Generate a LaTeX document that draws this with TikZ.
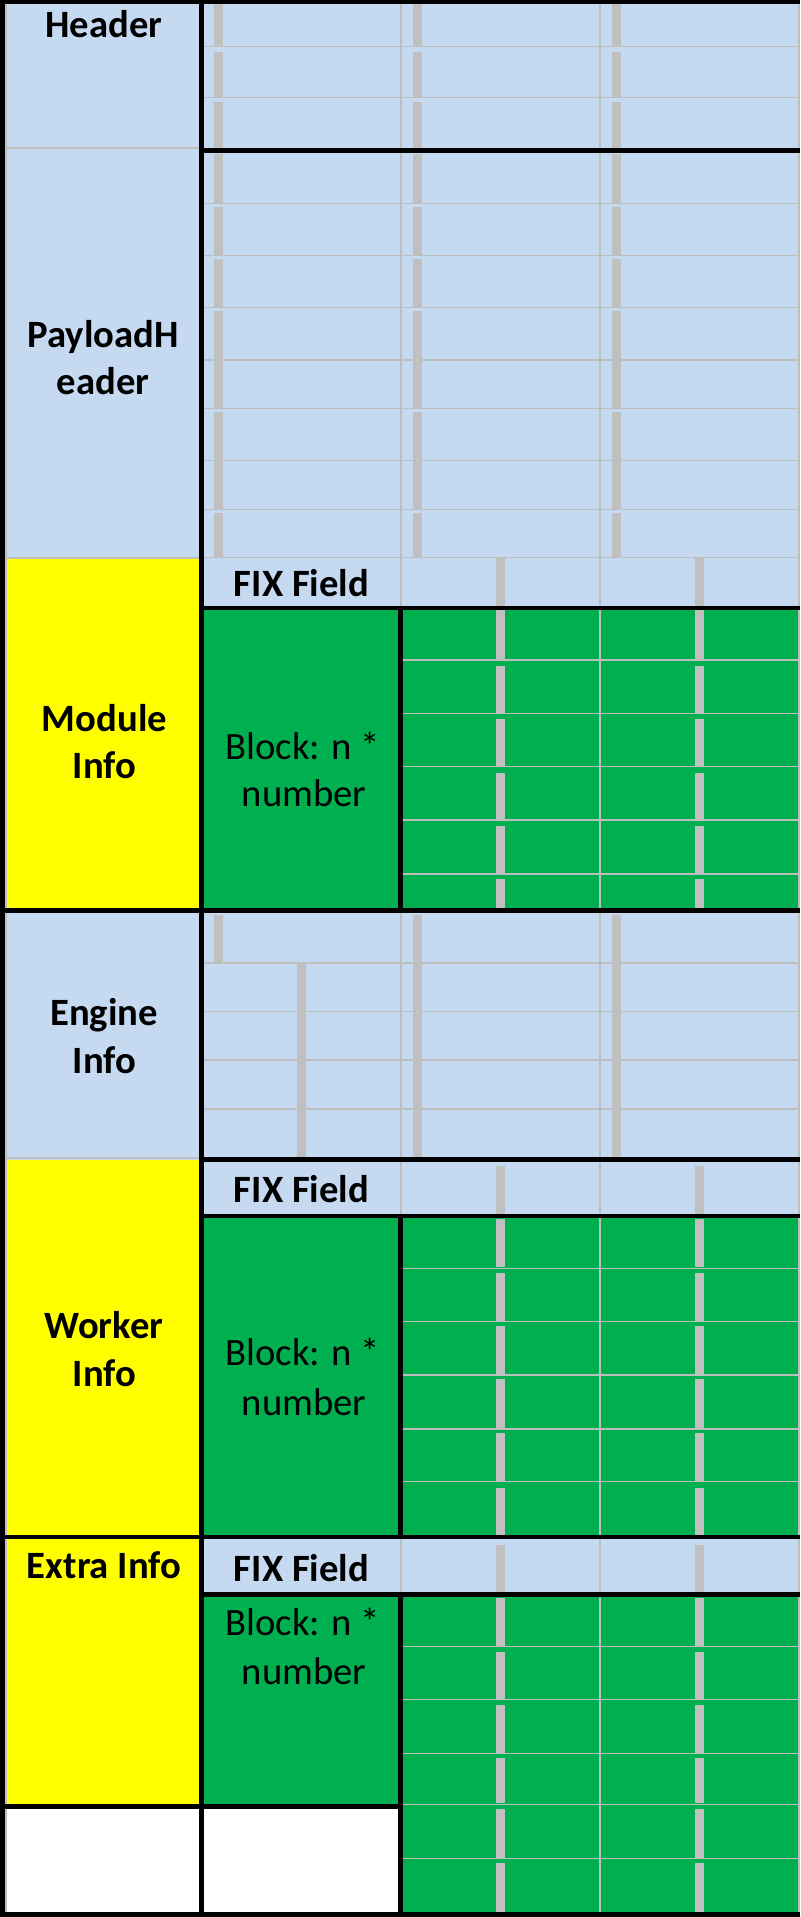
\documentclass[tikz,border=0pt]{standalone}
\usepackage{fontspec}
\setmainfont{Carlito}
\definecolor{cellblue}{RGB}{197,217,241}
\definecolor{cellgreen}{RGB}{0,176,80}
\definecolor{cellyellow}{RGB}{255,255,0}
\definecolor{gridgray}{RGB}{190,190,190}
\definecolor{bargray}{RGB}{192,192,192}
\begin{document}
\begin{tikzpicture}[x=0.75pt,y=-0.75pt,
  thickrule/.style={line width=3.4pt,draw=black},
  gridrule/.style={line width=1pt,draw=gridgray},
  databar/.style={fill=bargray},
  fieldlabel/.style={font=\fontsize{29}{35}\selectfont\bfseries,anchor=base,inner sep=0pt},
  blocktext/.style={font=\fontsize{29}{35}\selectfont,anchor=base,inner sep=0pt}]
\useasboundingbox (0,0) rectangle (800,1917);
\fill[white] (0,0) rectangle (800,1917);

% ---- cell fills: column A (section names)
\fill[cellblue]   (0,0)      rectangle (202,558);
\fill[cellyellow] (0,558)    rectangle (202,910.5);
\fill[cellblue]   (0,910.5)  rectangle (202,1159.5);
\fill[cellyellow] (0,1159.5) rectangle (202,1806.5);

% ---- cell fills: columns B to D (fields)
\fill[cellblue]  (202,0)      rectangle (800,608);
\fill[cellgreen] (202,608)    rectangle (800,910.5);
\fill[cellblue]  (202,910.5)  rectangle (800,1216);
\fill[cellgreen] (202,1216)   rectangle (800,1537);
\fill[cellblue]  (202,1537)   rectangle (800,1594.5);
\fill[cellgreen] (202,1594.5) rectangle (800,1914.5);
\fill[white]     (202,1806.5) rectangle (400.5,1914.5);

% ---- thin grid lines
\draw[gridrule] (6,0) -- (6,1914.5);
\draw[gridrule] (799,0) -- (799,1917);
\foreach \y in {148,558,1158}
  \draw[gridrule] (6,\y) -- (202,\y);
\foreach \y in {46.7,97.7,203.3,255.7,307.3,360,408.3,460.7,509.3,557.7,963,1011.7,1060,1109}
  \draw[gridrule] (202,\y) -- (800,\y);
\foreach \y in {660,713.3,766.7,820,874,1268.3,1321.7,1375,1429,1481.7,1646.7,1699.3,1753.3,1804.3,1858.3}
  \draw[gridrule] (400.5,\y) -- (800,\y);
\draw[gridrule] (401,0) -- (401,608);
\draw[gridrule] (401,910.5) -- (401,1216);
\draw[gridrule] (401,1537) -- (401,1594.5);
\draw[gridrule] (600,0) -- (600,1914.5);

% ---- data bars: Header and PayloadHeader rows
\foreach \x in {214,413,612}
  \foreach \a/\b in {4/47,52/97,102/148,154/203,207/255,259/307,311/408,412/509,513/557}
    \fill[databar] (\x,\a) rectangle ({\x+9},\b);

% ---- data bars: FIX field and block rows
\foreach \x in {496,695}
  \foreach \a/\b in {558/606,610/659,666/713,719/767,773/820,826/873,879/908,
                     1166/1214,1219/1267,1273/1321,1326/1375,1379/1428,1433/1482,1488/1535,
                     1545/1593,1598/1646,1652/1699,1705/1753,1758/1803,1809/1858,1863/1912}
    \fill[databar] (\x,\a) rectangle ({\x+9},\b);

% ---- data bars: Engine Info rows
\fill[databar] (214,915) rectangle (223,963);
\fill[databar] (297,963) rectangle (306,1157);
\fill[databar] (413,915) rectangle (422,1157);
\fill[databar] (612,915) rectangle (621,1157);

% ---- heavy borders
\draw[thickrule] (0,2) -- (800,2);
\draw[thickrule] (2.5,0) -- (2.5,1917);
\draw[thickrule] (201.5,0) -- (201.5,1917);
\draw[thickrule] (201.5,150.5) -- (800,150.5);
\draw[thickrule] (201.5,608) -- (800,608);
\draw[thickrule] (0,910.5) -- (800,910.5);
\draw[thickrule] (201.5,1159.5) -- (800,1159.5);
\draw[thickrule] (201.5,1216) -- (800,1216);
\draw[thickrule] (0,1537) -- (800,1537);
\draw[thickrule] (201.5,1594.5) -- (800,1594.5);
\draw[thickrule] (0,1806.5) -- (400.5,1806.5);
\draw[thickrule] (0,1914.5) -- (800,1914.5);
\draw[thickrule] (400.5,608) -- (400.5,910.5);
\draw[thickrule] (400.5,1216) -- (400.5,1537);
\draw[thickrule] (400.5,1594.5) -- (400.5,1914.5);

% ---- section names
\node[fieldlabel] (header) at (104,37) {Header};
\node[fieldlabel] (payload1) at (103,347) {PayloadH};
\node[fieldlabel] (payload2) at (103,394) {eader};
\node[fieldlabel] (module1) at (104.5,731) {Module};
\node[fieldlabel] (module2) at (104.5,778) {Info};
\node[fieldlabel] (engine1) at (104,1025) {Engine};
\node[fieldlabel] (engine2) at (104.5,1073) {Info};
\node[fieldlabel] (worker1) at (104,1338) {Worker};
\node[fieldlabel] (worker2) at (104.5,1386) {Info};
\node[fieldlabel] (extra) at (104,1578) {Extra Info};

% ---- field labels
\node[fieldlabel] (fixmodule) at (301.5,596) {FIX Field};
\node[fieldlabel] (fixworker) at (301.5,1202.3) {FIX Field};
\node[fieldlabel] (fixextra) at (301.5,1581.7) {FIX Field};
\node[blocktext] (blkmodule1) at (303,759) {Block: n *};
\node[blocktext] (blkmodule2) at (304,806) {number};
\node[blocktext] (blkworker1) at (303,1365) {Block: n *};
\node[blocktext] (blkworker2) at (304,1415) {number};
\node[blocktext] (blkextra1) at (303,1635) {Block: n *};
\node[blocktext] (blkextra2) at (304,1684) {number};
\end{tikzpicture}
\end{document}
